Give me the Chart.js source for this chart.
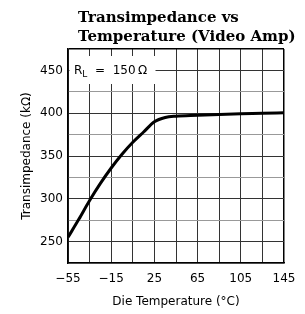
<!DOCTYPE html>
<html>
<head>
<meta charset="utf-8">
<script src="https://cdn.jsdelivr.net/npm/chart.js@4.4.1/dist/chart.umd.min.js"></script>
<style>
  html, body { margin: 0; padding: 0; background: #fff; }
  canvas { display: block; }
</style>
</head>
<body>
<canvas id="chart" width="305" height="314"></canvas>
<script>
// values
const temps = [-55, -45, -35, -25, -15, -5, 5, 15, 25, 35, 45, 65, 85, 105, 125, 145];
const transimpedance = [255, 276, 298, 318, 336, 352, 366, 378, 390, 395, 396.5, 397.5, 398.5, 399.3, 399.8, 400.5];

const xGrid = [-55, -35, -15, 5, 25, 45, 65, 85, 105, 125, 145];
const xLabels = [-55, -15, 25, 65, 105, 145];
const yGrid = [225, 250, 275, 300, 325, 350, 375, 400, 425, 450, 475];
const yLabels = [250, 300, 350, 400, 450];

const titleLines = ['Transimpedance vs', 'Temperature (Video Amp)'];

const fmt = v => (v < 0 ? '\u2212' + Math.abs(v) : String(v));

// title drawn left aligned like the datasheet
const titlePlugin = {
    id: 'datasheetTitle',
    afterDraw(chart) {
        const ctx = chart.ctx;
        ctx.save();
        ctx.fillStyle = '#000';
        ctx.font = 'bold 15px "DejaVu Serif"';
        ctx.textBaseline = 'alphabetic';
        ctx.textAlign = 'left';
        ctx.fillText(titleLines[0], 78, 22);
        ctx.fillText(titleLines[1], 78, 41);
        ctx.restore();
    }
};

// white label box "RL = 150 Ω" sitting over the grid
const loadPlugin = {
    id: 'loadLabel',
    beforeDatasetsDraw(chart) {
        const ctx = chart.ctx;
        const a = chart.chartArea;
        ctx.save();
        ctx.fillStyle = '#fff';
        ctx.fillRect(a.left + 1.5, a.top + 7, 86, 28);
        ctx.fillStyle = '#000';
        ctx.font = '12px "DejaVu Sans"';
        ctx.textBaseline = 'middle';
        const y = chart.scales.y.getPixelForValue(450);
        let x = a.left + 6;
        ctx.fillText('R', x, y);
        x += ctx.measureText('R').width;
        ctx.font = '9px "DejaVu Sans"';
        ctx.fillText('L', x, y + 4);
        x += ctx.measureText('L').width;
        ctx.font = '12px "DejaVu Sans"';
        ctx.fillText('  =  150\u2009\u03A9', x, y);
        ctx.restore();
    }
};

new Chart(document.getElementById('chart'), {
    type: 'line',
    data: {
        labels: temps,
        datasets: [{
            data: temps.map((t, i) => ({ x: t, y: transimpedance[i] })),
            borderColor: '#000',
            borderWidth: 3,
            pointRadius: 0,
            fill: false,
            cubicInterpolationMode: 'monotone'
        }]
    },
    options: {
        responsive: false,
        animation: false,
        layout: { padding: { top: 49, right: 21, left: 0, bottom: 0 } },
        plugins: { legend: { display: false }, tooltip: { enabled: false }, title: { display: false } },
        scales: {
            x: {
                type: 'linear',
                min: -55,
                max: 145,
                afterBuildTicks: s => { s.ticks = xGrid.map(v => ({ value: v })); },
                afterFit: s => { s.height = 51; },
                ticks: {
                    autoSkip: false,
                    maxRotation: 0,
                    padding: 9,
                    color: '#000',
                    font: { family: 'DejaVu Sans', size: 12 },
                    callback: v => (xLabels.includes(v) ? fmt(v) : '')
                },
                grid: {
                    drawTicks: false,
                    color: c => (c.tick && c.tick.value === 145 ? '#000' : '#333'),
                    lineWidth: c => (c.tick && c.tick.value === 145 ? 1.5 : 1)
                },
                border: { color: '#000', width: 1.5 },
                title: {
                    display: true,
                    text: 'Die Temperature (\u00B0C)',
                    color: '#000',
                    font: { family: 'DejaVu Sans', size: 12 },
                    padding: { top: 0, bottom: 5 }
                }
            },
            y: {
                min: 225,
                max: 475,
                afterBuildTicks: s => { s.ticks = yGrid.map(v => ({ value: v })); },
                afterFit: s => { s.width = 68; },
                ticks: {
                    autoSkip: false,
                    padding: 5,
                    color: '#000',
                    font: { family: 'DejaVu Sans', size: 12 },
                    callback: v => (yLabels.includes(v) ? String(v) : '')
                },
                grid: {
                    drawTicks: false,
                    color: c => {
                        const v = c.tick && c.tick.value;
                        if (v === 475) return '#000';
                        return v % 50 === 0 ? '#333' : '#999';
                    },
                    lineWidth: c => (c.tick && c.tick.value === 475 ? 1.5 : 1)
                },
                border: { color: '#000', width: 1.5 },
                title: {
                    display: true,
                    text: 'Transimpedance (k\u03A9)',
                    color: '#000',
                    font: { family: 'DejaVu Sans', size: 12 },
                    padding: { top: 20, bottom: 0 }
                }
            }
        }
    },
    plugins: [titlePlugin, loadPlugin]
});
</script>
</body>
</html>
